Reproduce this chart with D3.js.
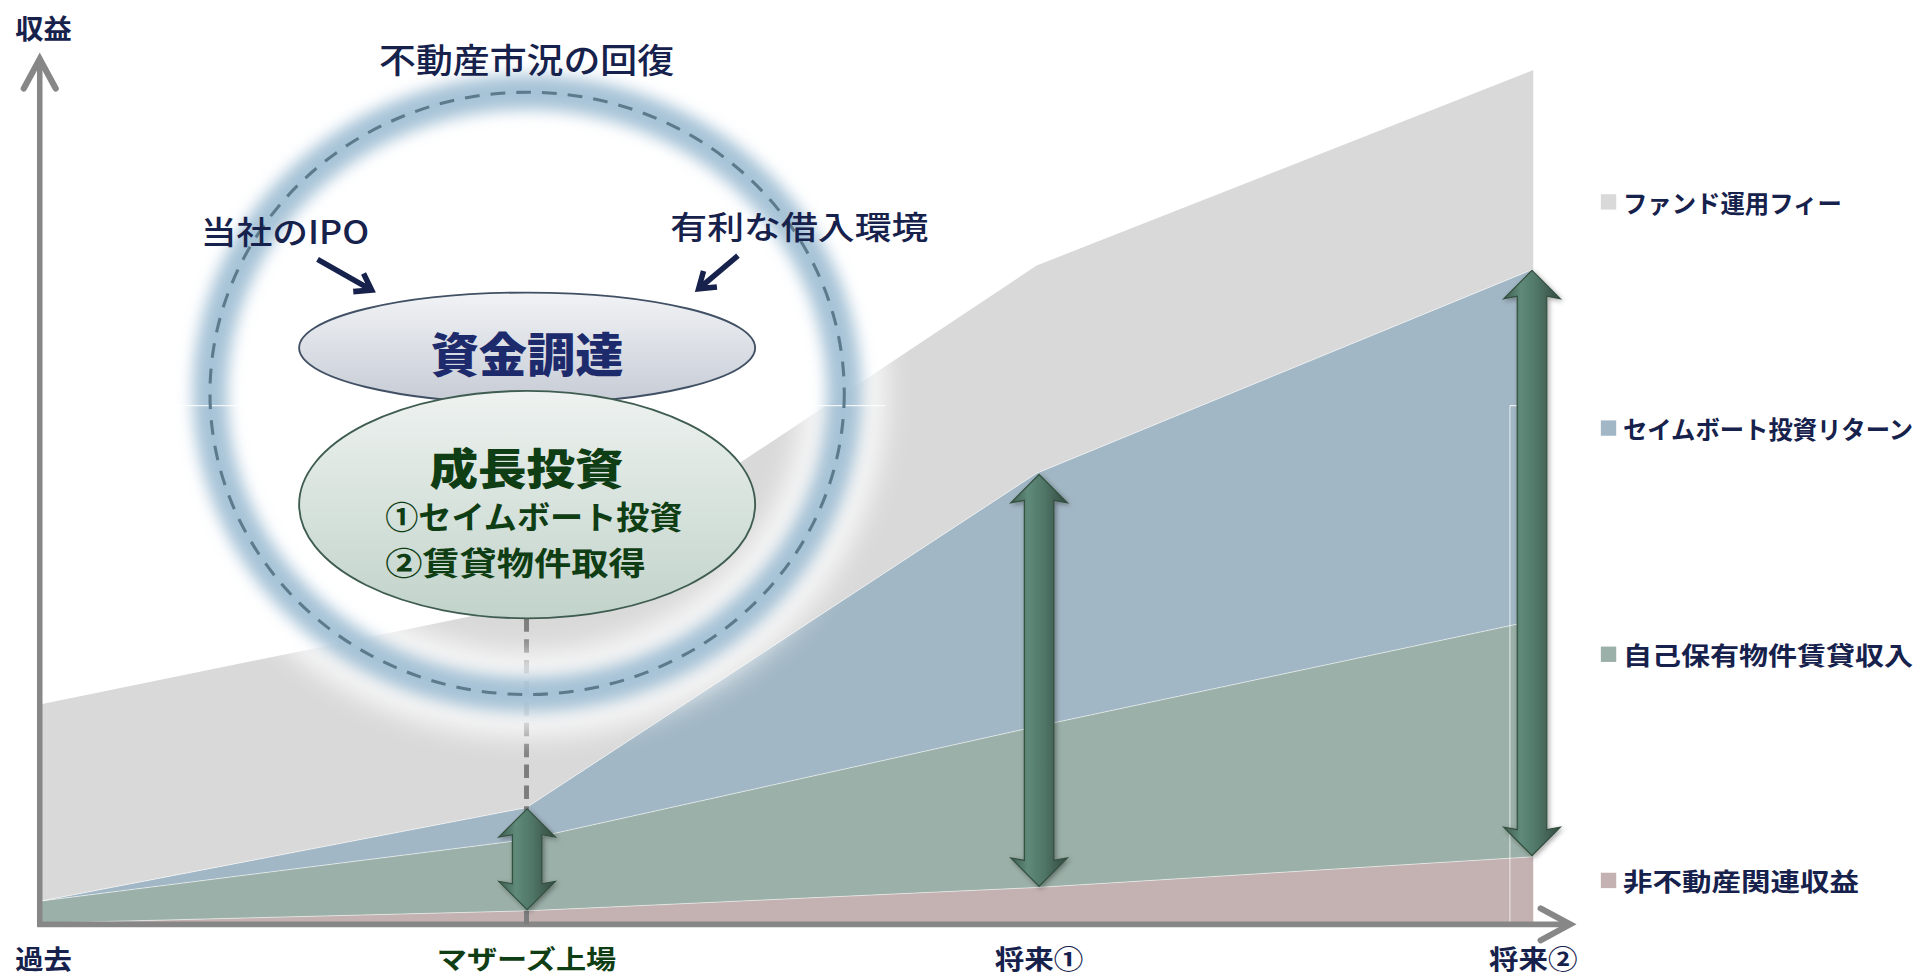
<!DOCTYPE html>
<html>
<head>
<meta charset="utf-8">
<script src="https://cdn.jsdelivr.net/npm/d3@7"></script>
<style>
  html, body { margin: 0; padding: 0; background: #fff; overflow: hidden; }
  svg { display: block; }
  text { font-family: "Noto Sans CJK JP", "Noto Sans", sans-serif; }
</style>
</head>
<body>
<svg id="chart" width="1927" height="976" viewBox="0 0 1567 794"></svg>
<script>
// periods on the x axis
const periods = ["過去", "マザーズ上場", "将来①", "将来②"];

// series, bottom to top of the stack
const seriesNames = ["非不動産関連収益", "自己保有物件賃貸収入", "セイムボート投資リターン", "ファンド運用フィー"];
const pinkVals  = [1, 11, 30, 55];
const greenVals = [18, 58, 131, 192];
const blueVals  = [0, 26, 206, 286];
const grayVals  = [160, 165, 169, 162];
const seriesColors = ["#c4b1b1", "#9bb0a8", "#a2b7c5", "#d9d9d9"];

// legend is listed top to bottom
const legendOrder = ["ファンド運用フィー", "セイムボート投資リターン", "自己保有物件賃貸収入", "非不動産関連収益"];

// periods that get a double-headed arrow
const arrowPeriods = ["マザーズ上場", "将来①", "将来②"];

const svg = d3.select("#chart");
const navy = "#16214c";
const darkGreen = "#0f3d14";

const x = d3.scaleLinear().domain([0, 1, 2, 3]).range([33, 428, 843, 1247]);
const y = d3.scaleLinear().domain([0, 700]).range([752, 52]);

// stacked data
const rows = periods.map((p, i) => ({
  period: p, i: i,
  [seriesNames[0]]: pinkVals[i],
  [seriesNames[1]]: greenVals[i],
  [seriesNames[2]]: blueVals[i],
  [seriesNames[3]]: grayVals[i]
}));
const stacked = d3.stack().keys(seriesNames)(rows);
const colorOf = d3.scaleOrdinal().domain(seriesNames).range(seriesColors);

const defs = svg.append("defs");

// gradients for ellipses
const g1 = defs.append("linearGradient").attr("id", "ellTop").attr("x1", 0).attr("y1", 0).attr("x2", 0).attr("y2", 1);
g1.append("stop").attr("offset", "0%").attr("stop-color", "#f1f3f5");
g1.append("stop").attr("offset", "100%").attr("stop-color", "#c6cbd5");
const g2 = defs.append("linearGradient").attr("id", "ellBot").attr("x1", 0).attr("y1", 0).attr("x2", 0).attr("y2", 1);
g2.append("stop").attr("offset", "0%").attr("stop-color", "#eef2f0");
g2.append("stop").attr("offset", "100%").attr("stop-color", "#c1d3ca");

// arrow body gradient
const ga = defs.append("linearGradient").attr("id", "arrowGrad").attr("x1", 0).attr("y1", 0).attr("x2", 1).attr("y2", 0);
ga.append("stop").attr("offset", "0%").attr("stop-color", "#3e5d52");
ga.append("stop").attr("offset", "30%").attr("stop-color", "#5f8a7a");
ga.append("stop").attr("offset", "60%").attr("stop-color", "#4f7567");
ga.append("stop").attr("offset", "100%").attr("stop-color", "#34493f");

// filters
defs.append("filter").attr("id", "blurWide").attr("x", "-20%").attr("y", "-20%").attr("width", "140%").attr("height", "140%")
  .append("feGaussianBlur").attr("stdDeviation", 10);
defs.append("filter").attr("id", "blurNarrow").attr("x", "-20%").attr("y", "-20%").attr("width", "140%").attr("height", "140%")
  .append("feGaussianBlur").attr("stdDeviation", 6);
const sh = defs.append("filter").attr("id", "shadow").attr("x", "-50%").attr("y", "-20%").attr("width", "200%").attr("height", "140%");
sh.append("feDropShadow").attr("dx", 1.5).attr("dy", 1.5).attr("stdDeviation", 2)
  .attr("flood-color", "#000").attr("flood-opacity", 0.35);

// stacked areas
const area = d3.area()
  .x(d => x(d.data.i))
  .y0(d => y(d[0]))
  .y1(d => y(d[1]));

svg.append("g").selectAll("path")
  .data(stacked)
  .join("path")
  .attr("d", area)
  .attr("fill", d => colorOf(d.key));

// thin white seams between layers
const topLine = d3.line().x(d => x(d.data.i)).y(d => y(d[1]));
svg.append("g").selectAll("path")
  .data(stacked.slice(0, 3))
  .join("path")
  .attr("d", topLine)
  .attr("fill", "none")
  .attr("stroke", "#fff")
  .attr("stroke-opacity", 0.55)
  .attr("stroke-width", 0.8);

// faint slide seams near the right arrow
svg.append("line").attr("x1", 1228).attr("x2", 1266).attr("y1", 330).attr("y2", 330)
  .attr("stroke", "#fff").attr("stroke-width", 1).attr("stroke-opacity", 0.8);
svg.append("line").attr("x1", 1228).attr("x2", 1228).attr("y1", 330).attr("y2", 751)
  .attr("stroke", "#fff").attr("stroke-width", 1).attr("stroke-opacity", 0.6);

// axes
const axisColor = "#878787";
svg.append("line").attr("x1", 32).attr("x2", 32).attr("y1", 48).attr("y2", 754)
  .attr("stroke", axisColor).attr("stroke-width", 4.5);
svg.append("line").attr("x1", 30).attr("x2", 1276).attr("y1", 752).attr("y2", 752)
  .attr("stroke", axisColor).attr("stroke-width", 4.5);
svg.append("path").attr("d", "M19,72 L32,48 L45,72")
  .attr("fill", "none").attr("stroke", axisColor).attr("stroke-width", 5).attr("stroke-linecap", "round");
svg.append("path").attr("d", "M1253,739 L1277,752 L1253,765")
  .attr("fill", "none").attr("stroke", axisColor).attr("stroke-width", 5).attr("stroke-linecap", "round");

svg.append("text").attr("x", 35).attr("y", 22)
  .attr("text-anchor", "middle").attr("dominant-baseline", "central")
  .attr("font-size", 22).attr("font-weight", 700).attr("fill", navy)
  .attr("textLength", 46).attr("lengthAdjust", "spacingAndGlyphs")
  .text("収益");

// x labels
const xLabelLen = [46, 146, 72, 72];
const xLabelX = [35, 428, 845, 1247];
svg.append("g").selectAll("text")
  .data(periods)
  .join("text")
  .attr("x", (d, i) => xLabelX[i])
  .attr("y", 779)
  .attr("text-anchor", "middle").attr("dominant-baseline", "central")
  .attr("font-size", 21).attr("font-weight", 700)
  .attr("fill", d => d === "マザーズ上場" ? darkGreen : navy)
  .attr("textLength", (d, i) => xLabelLen[i]).attr("lengthAdjust", "spacingAndGlyphs")
  .text(d => d);

// dashed drop line from the investment ellipse
svg.append("line").attr("x1", 428).attr("x2", 428).attr("y1", 503).attr("y2", 758)
  .attr("stroke", "#7d7d7d").attr("stroke-width", 4).attr("stroke-dasharray", "11 6");

// glowing ring
const cx = 428.5, cy = 320, rx = 258, ry = 245;
svg.append("ellipse").attr("cx", cx).attr("cy", cy).attr("rx", rx).attr("ry", ry)
  .attr("fill", "none").attr("stroke", "#ffffff").attr("stroke-width", 70).attr("stroke-opacity", 0.75)
  .attr("filter", "url(#blurWide)");
svg.append("ellipse").attr("cx", cx).attr("cy", cy).attr("rx", rx).attr("ry", ry)
  .attr("fill", "none").attr("stroke", "#9cbdd3").attr("stroke-width", 28).attr("stroke-opacity", 0.9)
  .attr("filter", "url(#blurNarrow)");
svg.append("line").attr("x1", 140).attr("x2", 720).attr("y1", 330).attr("y2", 330)
  .attr("stroke", "#fff").attr("stroke-width", 1).attr("stroke-opacity", 0.8);
svg.append("ellipse").attr("cx", cx).attr("cy", cy).attr("rx", rx).attr("ry", ry)
  .attr("fill", "none").attr("stroke", "#5d7a8d").attr("stroke-width", 2.5)
  .attr("stroke-dasharray", "12 9");

// captions around the ring
const caption = (tx, ty, str, len, size) => svg.append("text")
  .attr("x", tx).attr("y", ty)
  .attr("text-anchor", "start").attr("dominant-baseline", "central")
  .attr("font-size", size).attr("font-weight", 500).attr("fill", navy)
  .attr("textLength", len).attr("lengthAdjust", "spacingAndGlyphs")
  .text(str);
caption(308, 47, "不動産市況の回復", 240, 28);
caption(163, 187, "当社のIPO", 137, 26);
caption(545, 183, "有利な借入環境", 210, 26);

// small pointer arrows
const pointer = (x1, y1, x2, y2) => {
  const ang = Math.atan2(y2 - y1, x2 - x1);
  const L = 15, spread = 0.6;
  const a1 = [x2 - L * Math.cos(ang - spread), y2 - L * Math.sin(ang - spread)];
  const a2 = [x2 - L * Math.cos(ang + spread), y2 - L * Math.sin(ang + spread)];
  svg.append("path")
    .attr("d", `M${x1},${y1} L${x2},${y2} M${a1} L${x2},${y2} L${a2}`)
    .attr("fill", "none").attr("stroke", navy).attr("stroke-width", 4.5)
    .attr("stroke-linecap", "butt").attr("stroke-linejoin", "miter");
};
pointer(258, 211, 302, 236);
pointer(600, 208, 568, 235);

// ellipses
svg.append("ellipse").attr("cx", 428.5).attr("cy", 283).attr("rx", 185.5).attr("ry", 45)
  .attr("fill", "url(#ellTop)").attr("stroke", "#415064").attr("stroke-width", 1.5);
svg.append("ellipse").attr("cx", 428.5).attr("cy", 410.5).attr("rx", 185.5).attr("ry", 92.5)
  .attr("fill", "url(#ellBot)").attr("stroke", "#3e5c50").attr("stroke-width", 1.5);

svg.append("text").attr("x", 428.5).attr("y", 286)
  .attr("text-anchor", "middle").attr("dominant-baseline", "central")
  .attr("font-size", 38).attr("font-weight", 900).attr("fill", "#1d2b6d")
  .attr("textLength", 157).attr("lengthAdjust", "spacingAndGlyphs")
  .text("資金調達");
svg.append("text").attr("x", 428).attr("y", 379)
  .attr("text-anchor", "middle").attr("dominant-baseline", "central")
  .attr("font-size", 35).attr("font-weight", 900).attr("fill", darkGreen)
  .attr("textLength", 158).attr("lengthAdjust", "spacingAndGlyphs")
  .text("成長投資");
svg.append("text").attr("x", 313).attr("y", 419)
  .attr("dominant-baseline", "central")
  .attr("font-size", 26).attr("font-weight", 700).attr("fill", darkGreen)
  .attr("textLength", 242).attr("lengthAdjust", "spacingAndGlyphs")
  .text("①セイムボート投資");
svg.append("text").attr("x", 313).attr("y", 456)
  .attr("dominant-baseline", "central")
  .attr("font-size", 26).attr("font-weight", 700).attr("fill", darkGreen)
  .attr("textLength", 212).attr("lengthAdjust", "spacingAndGlyphs")
  .text("②賃貸物件取得");

// double-headed arrows spanning the real-estate layers
const arrowX = { "マザーズ上場": 428.5, "将来①": 845, "将来②": 1246 };
const shaftW = 24, headW = 46, headH = 23;
const arrowPath = (ax, y1, y2) => {
  const s = shaftW / 2, h = headW / 2;
  return `M${ax},${y1} L${ax + h},${y1 + headH} L${ax + s},${y1 + headH - 2}` +
    ` L${ax + s},${y2 - headH + 2} L${ax + h},${y2 - headH} L${ax},${y2}` +
    ` L${ax - h},${y2 - headH} L${ax - s},${y2 - headH + 2}` +
    ` L${ax - s},${y1 + headH - 2} L${ax - h},${y1 + headH} Z`;
};
const arrowData = arrowPeriods.map(p => {
  const i = periods.indexOf(p);
  return { p: p, top: y(stacked[2][i][1]), bottom: y(stacked[0][i][1]) };
});
svg.append("g").selectAll("path")
  .data(arrowData)
  .join("path")
  .attr("d", d => arrowPath(arrowX[d.p], d.top + 1, d.bottom - 1))
  .attr("fill", "url(#arrowGrad)")
  .attr("stroke", "#34503f")
  .attr("stroke-width", 1)
  .attr("filter", "url(#shadow)");

// legend
const ly = d3.scalePoint().domain(legendOrder).range([164, 716]);
const legendLen = { "ファンド運用フィー": 178, "セイムボート投資リターン": 236, "自己保有物件賃貸収入": 236, "非不動産関連収益": 192 };
const lg = svg.append("g").selectAll("g")
  .data(legendOrder)
  .join("g")
  .attr("transform", d => `translate(1302,${ly(d)})`);
lg.append("rect").attr("x", 0).attr("y", -6).attr("width", 12.5).attr("height", 12.5)
  .attr("fill", d => colorOf(d));
lg.append("text").attr("x", 18).attr("y", 0)
  .attr("dominant-baseline", "central")
  .attr("font-size", 20).attr("font-weight", 700).attr("fill", navy)
  .attr("textLength", d => legendLen[d]).attr("lengthAdjust", "spacingAndGlyphs")
  .text(d => d);
</script>
</body>
</html>
